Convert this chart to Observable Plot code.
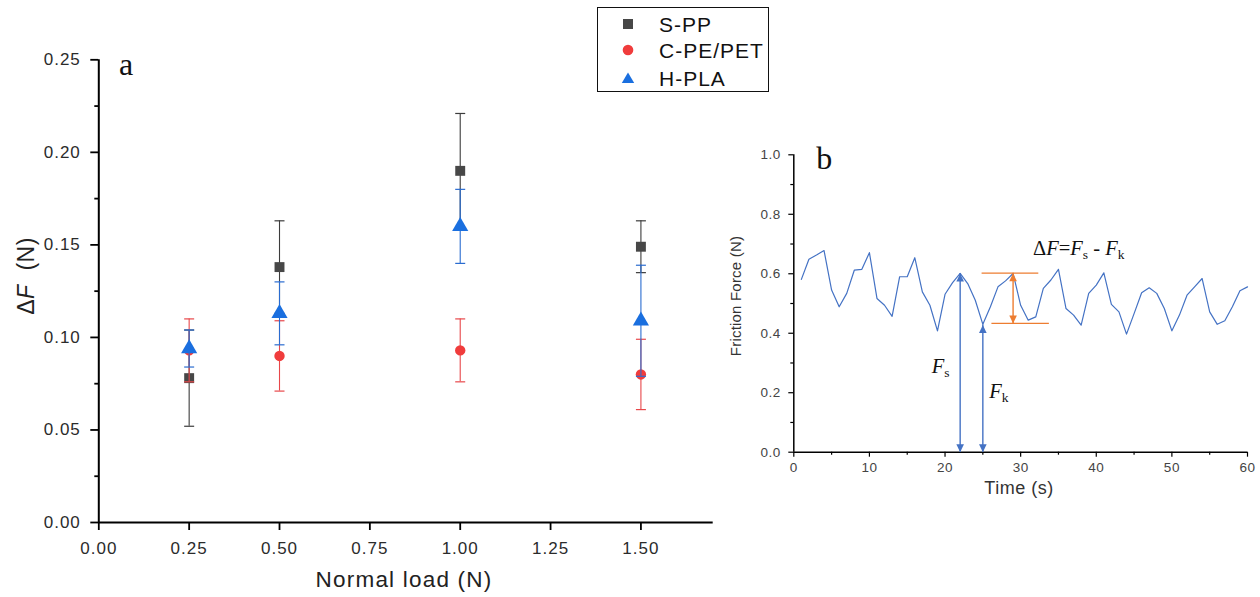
<!DOCTYPE html>
<html><head><meta charset="utf-8">
<script src="https://cdn.jsdelivr.net/npm/d3@7"></script>
<script src="https://cdn.jsdelivr.net/npm/@observablehq/plot@0.6"></script>
<style>
body{margin:0;background:#fff;}
#wrap{position:relative;width:1260px;height:597px;overflow:hidden;font-family:"Liberation Sans",Arial,sans-serif;color:#222;}
.plot{position:absolute;}
.lbl{position:absolute;white-space:nowrap;line-height:1;}
</style></head><body><div id="wrap"></div>
<script>
// ---------- Panel a data ----------
const loads = [0.25, 0.5, 1.0, 1.5];
const seriesNames = ["S-PP", "C-PE/PET", "H-PLA"];
const sppMean = [0.078, 0.138, 0.190, 0.149];
const sppErr  = [0.026, 0.025, 0.031, 0.014];
const cpeMean = [0.093, 0.090, 0.093, 0.080];
const cpeErr  = [0.017, 0.019, 0.017, 0.019];
const plaMean = [0.094, 0.113, 0.160, 0.109];
const plaErr  = [0.010, 0.017, 0.020, 0.030];
const xTicksA = [0, 0.25, 0.5, 0.75, 1.0, 1.25, 1.5];
const yTicksA = [0, 0.05, 0.10, 0.15, 0.20, 0.25];
const yMinorA = [0.025, 0.075, 0.125, 0.175, 0.225];

// ---------- Panel b data ----------
const timeS = [1,2,3,4,5,6,7,8,9,10,11,12,13,14,15,16,17,18,19,20,21,22,23,24,25,26,27,28,29,30,
               31,32,33,34,35,36,37,38,39,40,41,42,43,44,45,46,47,48,49,50,51,52,53,54,55,56,57,58,59,60];
const friction = [0.581,0.649,0.663,0.678,0.545,0.489,0.534,0.612,0.615,0.671,
                  0.517,0.494,0.457,0.590,0.590,0.654,0.539,0.494,0.408,0.531,
                  0.570,0.601,0.567,0.511,0.430,0.489,0.556,0.576,0.601,0.494,
                  0.444,0.455,0.551,0.579,0.615,0.483,0.461,0.427,0.534,0.562,
                  0.603,0.497,0.472,0.397,0.466,0.536,0.553,0.534,0.483,0.408,
                  0.461,0.528,0.556,0.584,0.472,0.430,0.442,0.489,0.543,0.556];
const xTicksB = [0, 10, 20, 30, 40, 50, 60];
const xMinorB = [5, 15, 25, 35, 45, 55];
const yTicksB = [0, 0.2, 0.4, 0.6, 0.8, 1.0];
const yMinorB = [0.1, 0.3, 0.5, 0.7, 0.9];
// annotation arrows (time, low, high)
const blueArrowT  = [22, 25];
const blueArrowLo = [0, 0];
const blueArrowHi = [0.601, 0.428];
const orangeArrowT = [29];
const orangeArrowLo = [0.433];
const orangeArrowHi = [0.602];
const orangeLineV  = [0.602, 0.433];
const orangeLineT1 = [24.9, 26.2];
const orangeLineT2 = [32.4, 33.8];

const colors = ["#474747", "#F03C3C", "#1A6FDF"];
const barColors = ["#3c3c3c", "#E8474A", "#2A6CD0"];
const symbols = ["square", "circle", "triangle"];
const radii = [5.6, 5.2, 6.0];

const means = [sppMean, cpeMean, plaMean];
const errs = [sppErr, cpeErr, plaErr];

const capSymbol = {draw(ctx){ ctx.moveTo(-5, 0); ctx.lineTo(5, 0); }};
const upHead = {draw(ctx){ ctx.moveTo(0, 0); ctx.lineTo(-3.8, 8); ctx.lineTo(3.8, 8); ctx.closePath(); }};
const downHead = {draw(ctx){ ctx.moveTo(0, 0); ctx.lineTo(-3.8, -8); ctx.lineTo(3.8, -8); ctx.closePath(); }};

const wrap = document.getElementById("wrap");
const sansFont = '"Liberation Sans", Arial, sans-serif';
const serifFont = '"Liberation Serif", "Times New Roman", serif';

// ---------- Panel a ----------
const seriesMarks = [];
seriesNames.forEach((name, i) => {
  const rows = loads.map((x, j) => ({load: x, mean: means[i][j], err: errs[i][j]}));
  const caps = rows.flatMap(d => [{load: d.load, v: d.mean - d.err}, {load: d.load, v: d.mean + d.err}]);
  seriesMarks.push(
    Plot.ruleX(rows, {x: "load", y1: d => d.mean - d.err, y2: d => d.mean + d.err, stroke: barColors[i], strokeWidth: 1.1}),
    Plot.dot(caps, {x: "load", y: "v", symbol: capSymbol, stroke: barColors[i], fill: "none", strokeWidth: 1.2}),
    Plot.dot(rows, {x: "load", y: "mean", symbol: symbols[i], r: radii[i], fill: colors[i], stroke: "none"})
  );
});

const plotA = Plot.plot({
  width: 730, height: 597,
  marginLeft: 98.3, marginRight: 17.3, marginTop: 59.3, marginBottom: 75,
  x: {domain: [0, 1.7]},
  y: {domain: [0, 0.25]},
  style: {fontFamily: sansFont, fontSize: "17px", letterSpacing: "1px", background: "transparent", overflow: "visible"},
  marks: [
    Plot.axisY(yMinorA, {tickSize: 4, tickFormat: () => "", label: null, stroke: "#000", strokeWidth: 1.8}),
    Plot.axisY(yTicksA, {tickSize: 8, tickPadding: 10, tickFormat: d3.format(".2f"), label: null, stroke: "#000", fill: "#2b2b2b", strokeWidth: 1.8}),
    Plot.axisX(xTicksA, {tickSize: 8, tickPadding: 11, tickFormat: d3.format(".2f"), label: null, stroke: "#000", fill: "#2b2b2b", strokeWidth: 1.8}),
    Plot.ruleX([0], {stroke: "#000", strokeWidth: 2}),
    Plot.ruleY([0], {stroke: "#000", strokeWidth: 2}),
    ...seriesMarks,
    Plot.text(["a"], {frameAnchor: "top-left", dx: 27.7, dy: 14.7, lineAnchor: "bottom", textAnchor: "middle",
                      fontSize: 32, fontFamily: serifFont, fill: "#111"})
  ]
});
plotA.classList.add("plot");
plotA.style.left = "0px"; plotA.style.top = "0px";
wrap.appendChild(plotA);

// ---------- Panel b ----------
const lineData = timeS.map((t, i) => ({t, f: friction[i]}));
const blueArrows = blueArrowT.map((t, i) => ({t, lo: blueArrowLo[i], hi: blueArrowHi[i]}));
const orangeArrows = orangeArrowT.map((t, i) => ({t, lo: orangeArrowLo[i], hi: orangeArrowHi[i]}));
const orangeLines = orangeLineV.map((v, i) => ({v, t1: orangeLineT1[i], t2: orangeLineT2[i]}));
const blueC = "#4472C4", orangeC = "#ED7D31";

const plotB = Plot.plot({
  width: 560, height: 400,
  marginLeft: 93.3, marginRight: 13, marginTop: 34.3, marginBottom: 68.3,
  x: {domain: [0, 60]},
  y: {domain: [0, 1]},
  style: {fontFamily: sansFont, fontSize: "13.5px", letterSpacing: "0.5px", background: "transparent", overflow: "visible"},
  marks: [
    Plot.axisY(yMinorB, {tickSize: 3, tickFormat: () => "", label: null, stroke: "#000", strokeWidth: 1.2}),
    Plot.axisY(yTicksB, {tickSize: 5, tickPadding: 8, tickFormat: d3.format(".1f"), label: null, stroke: "#000", fill: "#444", strokeWidth: 1.2}),
    Plot.axisX(xMinorB, {tickSize: 3, tickFormat: () => "", label: null, stroke: "#000", strokeWidth: 1.2}),
    Plot.axisX(xTicksB, {tickSize: 5, tickPadding: 5, label: null, stroke: "#000", fill: "#444", strokeWidth: 1.2}),
    Plot.ruleX([0], {stroke: "#000", strokeWidth: 1.5}),
    Plot.ruleY([0], {stroke: "#000", strokeWidth: 1.5}),
    Plot.line(lineData, {x: "t", y: "f", stroke: blueC, strokeWidth: 1.2}),
    Plot.ruleX(blueArrows, {x: "t", y1: "lo", y2: "hi", stroke: blueC, strokeWidth: 1.4}),
    Plot.dot(blueArrows, {x: "t", y: "hi", symbol: upHead, fill: blueC, stroke: "none"}),
    Plot.dot(blueArrows, {x: "t", y: "lo", symbol: downHead, fill: blueC, stroke: "none"}),
    Plot.ruleY(orangeLines, {y: "v", x1: "t1", x2: "t2", stroke: orangeC, strokeWidth: 1.3}),
    Plot.ruleX(orangeArrows, {x: "t", y1: "lo", y2: "hi", stroke: orangeC, strokeWidth: 1.4}),
    Plot.dot(orangeArrows, {x: "t", y: "hi", symbol: upHead, fill: orangeC, stroke: "none"}),
    Plot.dot(orangeArrows, {x: "t", y: "lo", symbol: downHead, fill: orangeC, stroke: "none"}),
    Plot.text(["b"], {frameAnchor: "top-left", dx: 30.7, dy: 14, lineAnchor: "bottom", textAnchor: "middle",
                      fontSize: 32, fontFamily: serifFont, fill: "#111"})
  ]
});
plotB.classList.add("plot");
plotB.style.left = "700px"; plotB.style.top = "120px";
wrap.appendChild(plotB);

// rich-text annotations (subscripts) placed through panel b scales
const sx = plotB.scale("x"), sy = plotB.scale("y");
const svgB = d3.select(plotB.tagName.toLowerCase() === "svg" ? plotB : plotB.querySelector("svg"));
const annotations = [
  {t: 31.7, v: 0.663, parts: [["Δ", false, false], ["F", true, false], ["=", false, false], ["F", true, false], ["s", false, true], [" - ", false, false], ["F", true, false], ["k", false, true]]},
  {t: 18.3, v: 0.265, parts: [["F", true, false], ["s", false, true]]},
  {t: 25.9, v: 0.180, parts: [["F", true, false], ["k", false, true]]}
];
annotations.forEach(a => {
  const txt = svgB.append("text")
    .attr("x", sx.apply(a.t)).attr("y", sy.apply(a.v))
    .attr("text-anchor", "start")
    .attr("font-family", serifFont).attr("font-size", 20.5).attr("fill", "#111")
    .style("letter-spacing", "0px").style("white-space", "pre");
  let sub = false;
  a.parts.forEach(([s, ital, isSub]) => {
    const ts = txt.append("tspan").text(s);
    if (ital) ts.attr("font-style", "italic");
    if (isSub) ts.attr("font-size", 13.5);
    if (isSub && !sub) { ts.attr("dy", 4); sub = true; }
    else if (!isSub && sub) { ts.attr("dy", -4); sub = false; }
  });
});

// ---------- titles and legend ----------
function addLabel(html, cx, cy, style, rotate) {
  const d = document.createElement("div");
  d.className = "lbl";
  d.innerHTML = html;
  d.style.left = cx + "px"; d.style.top = cy + "px";
  d.style.transform = "translate(-50%,-50%)" + (rotate ? " rotate(-90deg)" : "");
  Object.assign(d.style, style);
  wrap.appendChild(d);
}
addLabel("Normal load (N)", 404, 580, {fontSize: "22.5px", letterSpacing: "1.2px", color: "#222"});
addLabel("Δ<i>F</i>&nbsp;&nbsp;(N)", 26, 276, {fontSize: "23px", letterSpacing: "0.5px", color: "#222"}, true);
addLabel("Time (s)", 1019, 488, {fontSize: "18px", letterSpacing: "0.5px", color: "#333"});
addLabel("Friction Force (N)", 735, 296, {fontSize: "15px", letterSpacing: "0.2px", color: "#333"}, true);

const legend = document.createElement("div");
legend.style.cssText = "position:absolute;left:597px;top:7px;width:170px;height:83px;border:1.4px solid #111;background:#fff;";
wrap.appendChild(legend);
const legendY = [16, 42, 70];
const legendShapes = [
  '<rect x="2" y="2" width="10" height="10" fill="' + colors[0] + '"/>',
  '<circle cx="7" cy="7" r="5.3" fill="' + colors[1] + '"/>',
  '<path d="M7,1.5 L13.2,12 L0.8,12 Z" fill="' + colors[2] + '"/>'
];
seriesNames.forEach((name, i) => {
  const s = document.createElementNS("http://www.w3.org/2000/svg", "svg");
  s.setAttribute("width", 14); s.setAttribute("height", 14);
  s.style.cssText = "position:absolute;left:" + (620 - 597) + "px;top:" + (legendY[i] - 7) + "px;";
  s.innerHTML = legendShapes[i];
  legend.appendChild(s);
  const t = document.createElement("div");
  t.className = "lbl";
  t.textContent = name;
  t.style.cssText += "left:" + (658 - 597) + "px;top:" + legendY[i] + "px;transform:translateY(-50%);font-size:21px;letter-spacing:1px;color:#111;";
  legend.appendChild(t);
});
</script></body></html>
